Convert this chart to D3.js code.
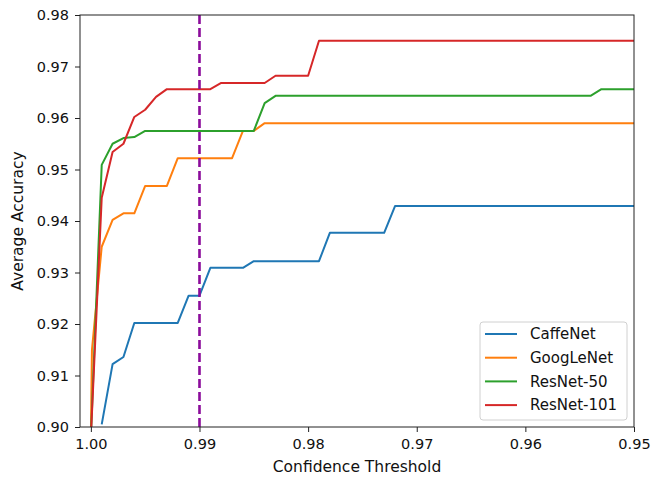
<!DOCTYPE html>
<html>
<head>
<meta charset="utf-8">
<script src="https://cdn.jsdelivr.net/npm/d3@7"></script>
<style>
body { margin: 0; background: #fff; }
text { font-family: "DejaVu Sans", sans-serif; }
</style>
</head>
<body>
<svg width="652" height="478"></svg>
<script>
// values
var seriesNames = ["CaffeNet", "GoogLeNet", "ResNet-50", "ResNet-101"];
var seriesColors = ["#1f77b4", "#ff7f0e", "#2ca02c", "#d62728"];

var caffeX = [0.999, 0.998, 0.997, 0.996, 0.992, 0.991, 0.990, 0.989, 0.986, 0.985, 0.979, 0.978, 0.973, 0.972, 0.950];
var caffeY = [0.9005, 0.9122, 0.9136, 0.9202, 0.9202, 0.9255, 0.9255, 0.9309, 0.9309, 0.9322, 0.9322, 0.9377, 0.9377, 0.9429, 0.9429];

var googX = [1.000, 0.9999, 0.999, 0.998, 0.997, 0.996, 0.995, 0.993, 0.992, 0.987, 0.986, 0.985, 0.984, 0.950];
var googY = [0.898, 0.915, 0.935, 0.9402, 0.9415, 0.9415, 0.9468, 0.9468, 0.9522, 0.9522, 0.9575, 0.9575, 0.959, 0.959];

var res50X = [1.000, 0.999, 0.998, 0.997, 0.996, 0.995, 0.985, 0.984, 0.983, 0.954, 0.953, 0.950];
var res50Y = [0.898, 0.9509, 0.955, 0.9561, 0.9563, 0.9575, 0.9575, 0.9629, 0.9643, 0.9643, 0.9656, 0.9656];

var res101X = [1.000, 0.999, 0.998, 0.997, 0.996, 0.995, 0.994, 0.993, 0.989, 0.988, 0.984, 0.983, 0.980, 0.979, 0.950];
var res101Y = [0.898, 0.9445, 0.9534, 0.955, 0.9602, 0.9616, 0.9641, 0.9656, 0.9656, 0.9668, 0.9668, 0.9682, 0.9682, 0.975, 0.975];

var xTicks = [1.00, 0.99, 0.98, 0.97, 0.96, 0.95];
var yTicks = [0.90, 0.91, 0.92, 0.93, 0.94, 0.95, 0.96, 0.97, 0.98];
var markerX = 0.99;

var svg = d3.select("svg"),
    margin = {top: 15, right: 18, bottom: 51, left: 80},
    width = +svg.attr("width") - margin.left - margin.right,
    height = +svg.attr("height") - margin.top - margin.bottom;

var x = d3.scaleLinear().domain([1.001, 0.95]).range([0, width]);
var y = d3.scaleLinear().domain([0.90, 0.98]).range([height, 0]);

var g = svg.append("g").attr("transform", "translate(" + margin.left + "," + margin.top + ")");

svg.append("defs").append("clipPath").attr("id", "plot")
  .append("rect").attr("width", width).attr("height", height);

var allX = [caffeX, googX, res50X, res101X];
var allY = [caffeY, googY, res50Y, res101Y];

var line = d3.line()
  .x(function(d) { return x(d[0]); })
  .y(function(d) { return y(d[1]); });

var plot = g.append("g").attr("clip-path", "url(#plot)");

seriesNames.forEach(function(name, i) {
  var pts = d3.zip(allX[i], allY[i]);
  plot.append("path")
    .datum(pts)
    .attr("fill", "none")
    .attr("stroke", seriesColors[i])
    .attr("stroke-width", 2)
    .attr("stroke-linejoin", "round")
    .attr("d", line);
});

// dashed threshold marker
plot.append("line")
  .attr("x1", x(markerX)).attr("x2", x(markerX))
  .attr("y1", 0).attr("y2", height)
  .attr("stroke", "#8b0c9b")
  .attr("stroke-width", 2.6)
  .attr("stroke-dasharray", "9,4");

// axes
var xAxis = g.append("g")
  .attr("transform", "translate(0," + height + ")")
  .call(d3.axisBottom(x).tickValues(xTicks).tickFormat(d3.format(".2f")).tickSize(5).tickPadding(6.5));
var yAxis = g.append("g")
  .call(d3.axisLeft(y).tickValues(yTicks).tickFormat(d3.format(".2f")).tickSize(5).tickPadding(6));

[xAxis, yAxis].forEach(function(a) {
  a.select(".domain").remove();
  a.selectAll("text").attr("font-size", "14.5px").attr("fill", "#111").style("font-family", "DejaVu Sans");
  a.selectAll("line").attr("stroke", "#222");
});

g.append("rect")
  .attr("width", width).attr("height", height)
  .attr("fill", "none").attr("stroke", "#222").attr("stroke-width", 1);

svg.append("text")
  .attr("x", margin.left + width / 2)
  .attr("y", 472)
  .attr("text-anchor", "middle")
  .attr("font-size", "15.5px")
  .attr("fill", "#111")
  .text("Confidence Threshold");

svg.append("text")
  .attr("transform", "translate(23," + (margin.top + height / 2) + ") rotate(-90)")
  .attr("text-anchor", "middle")
  .attr("font-size", "15.5px")
  .attr("fill", "#111")
  .text("Average Accuracy");

// legend
var lg = svg.append("g").attr("transform", "translate(480,322)");
lg.append("rect")
  .attr("width", 147).attr("height", 98).attr("rx", 3)
  .attr("fill", "#fff").attr("fill-opacity", 0.8)
  .attr("stroke", "#d0d0d0");

seriesNames.forEach(function(name, i) {
  var row = lg.append("g").attr("transform", "translate(0," + (12 + i * 23.7) + ")");
  row.append("line")
    .attr("x1", 5).attr("x2", 37)
    .attr("stroke", seriesColors[i]).attr("stroke-width", 2);
  row.append("text")
    .attr("x", 50).attr("dy", "0.35em")
    .attr("font-size", "15px")
    .attr("fill", "#111")
    .text(name);
});
</script>
</body>
</html>
